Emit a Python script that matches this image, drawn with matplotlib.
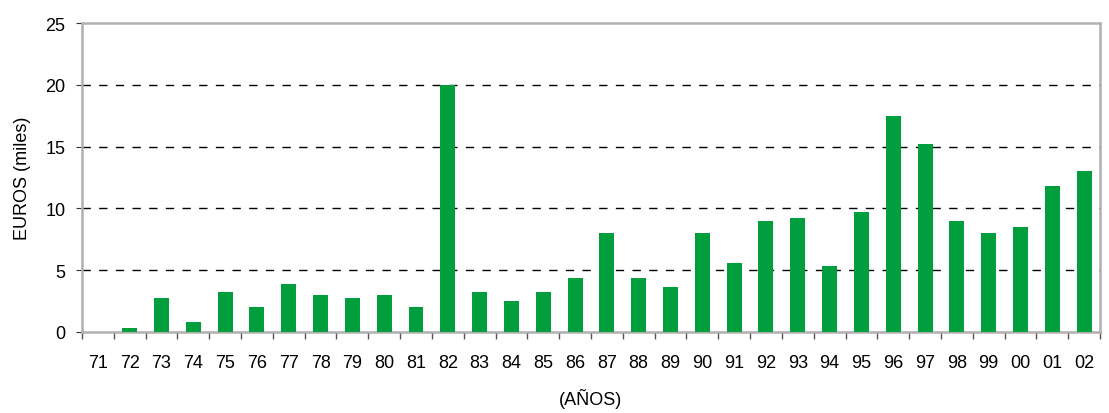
import matplotlib
matplotlib.use("Agg")
import matplotlib.pyplot as plt
import numpy as np

years = ["71", "72", "73", "74", "75", "76", "77", "78", "79", "80", "81", "82",
         "83", "84", "85", "86", "87", "88", "89", "90", "91", "92", "93", "94",
         "95", "96", "97", "98", "99", "00", "01", "02"]
values = [0.0, 0.3, 2.75, 0.8, 3.25, 2.0, 3.9, 3.0, 2.75, 3.0, 2.0, 20.0,
          3.25, 2.5, 3.25, 4.4, 8.0, 4.4, 3.65, 8.0, 5.6, 9.0, 9.25, 5.35,
          9.7, 17.45, 15.25, 9.0, 8.0, 8.5, 11.85, 13.05]

plt.rcParams['font.family'] = ['Liberation Sans', 'DejaVu Sans']

fig = plt.figure(figsize=(11.09, 4.14), dpi=100)
ax = fig.add_axes([0.0739, 0.1957, 0.918, 0.7463])

x = np.arange(len(years))
ax.bar(x, values, width=0.47, color='#009E3D', zorder=3)

ax.set_xlim(-0.5, len(years) - 0.5)
ax.set_ylim(0, 25)
ax.set_yticks([0, 5, 10, 15, 20, 25])
for yv in [5, 10, 15, 20]:
    ax.axhline(yv, color='black', linestyle=(0, (6, 6)), linewidth=1.0, zorder=1)

ax.set_xticks(x)
ax.set_xticklabels(years)
ax.set_xticks(np.arange(-0.5, len(years)), minor=True)
ax.tick_params(axis='x', which='major', length=0, labelsize=13, pad=16)
ax.tick_params(axis='x', which='minor', length=5, color='#555555', width=1)
ax.tick_params(axis='y', length=4, color='#333333', labelsize=13, pad=8)

for s in ax.spines.values():
    s.set_color('#B0B0B0')
    s.set_linewidth(1.8)

ax.set_ylabel('EUROS (miles)', fontsize=13, labelpad=10)
ax.set_xlabel('(AÑOS)', fontsize=13, labelpad=12)

fig.savefig('out.png', dpi=100)
